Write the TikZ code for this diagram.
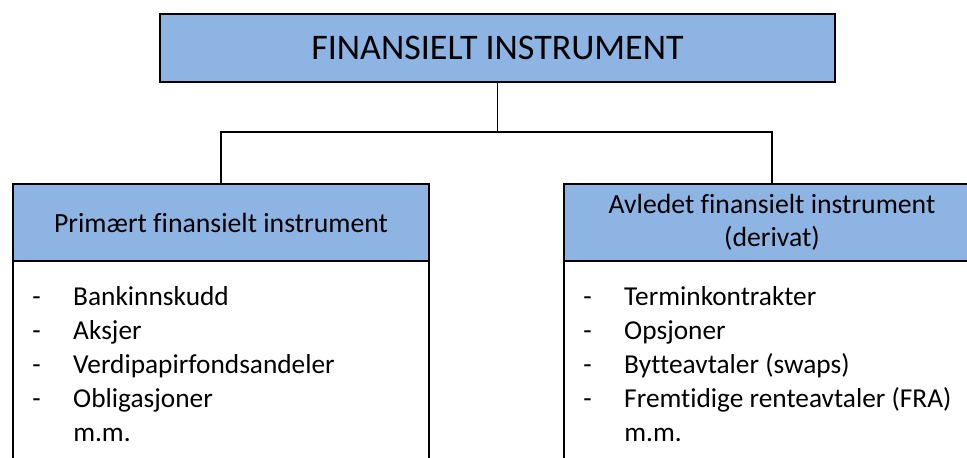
\documentclass[tikz,border=0pt]{standalone}
\usepackage{fontspec}
\setmainfont{Carlito}[Ligatures=NoCommon]
\usepackage{tikz}
\usetikzlibrary{positioning,calc}
\definecolor{headblue}{RGB}{141,180,226}

\begin{document}
\begin{tikzpicture}[
    x=0.75pt, y=-0.75pt,
    node distance=0pt,
    topbox/.style={rectangle, draw=black, fill=headblue, line width=1.4pt, outer sep=0pt,
                   minimum width=675*0.75pt, minimum height=68*0.75pt,
                   font=\fontsize{27}{32}\selectfont},
    headbox/.style={rectangle, draw=black, fill=headblue, line width=1.4pt, outer sep=0pt,
                    minimum width=416*0.75pt, minimum height=77*0.75pt, align=center,
                    font=\fontsize{20.8}{25}\selectfont},
    bodybox/.style={rectangle, draw=black, fill=white, line width=1.4pt, outer sep=0pt,
                    minimum width=416*0.75pt, minimum height=230*0.75pt},
    itemlist/.style={inner sep=0pt, anchor=north west, font=\fontsize{20.5}{25.5}\selectfont},
    conn/.style={draw=black, line width=1.4pt}
]
\useasboundingbox (0,0) rectangle (967,457);
\clip (0,0) rectangle (967,457);
% top level
\node[topbox] (top) at (497.5,48) {FINANSIELT INSTRUMENT};
% left branch
\node[headbox] (primhead) at (221,222.5) {Primært finansielt instrument};
\node[bodybox, below=of primhead] (primbody) {};
\node[itemlist] (primlist) at ($(primbody.north west)+(19,20)$)
    {\begin{tabular}{@{}p{30.75pt}@{}l@{}}
     - & Bankinnskudd\\
     - & Aksjer\\
     - & Verdipapirfondsandeler\\
     - & Obligasjoner\\
       & m.m.
     \end{tabular}};
% right branch
\node[headbox] (derivhead) at (772,222.5) {Avledet finansielt instrument\\(derivat)};
\node[bodybox, below=of derivhead] (derivbody) {};
\node[itemlist] (derivlist) at ($(derivbody.north west)+(19,20)$)
    {\begin{tabular}{@{}p{30.75pt}@{}l@{}}
     - & Terminkontrakter\\
     - & Opsjoner\\
     - & Bytteavtaler (swaps)\\
     - & Fremtidige renteavtaler (FRA)\\
       & m.m.
     \end{tabular}};
% connectors
\coordinate (split) at ($(top.south)+(0,50)$);
\draw[conn] (top.south) -- (split);
\draw[conn] (split) -| (primhead.north);
\draw[conn] (split) -| (derivhead.north);
\end{tikzpicture}
\end{document}
